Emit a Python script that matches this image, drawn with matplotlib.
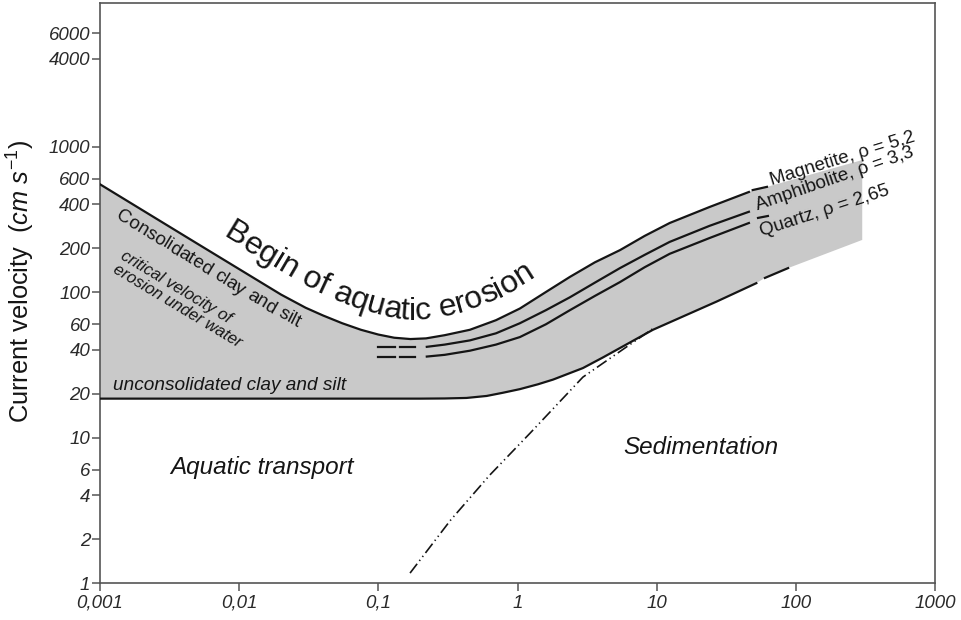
import numpy as np
import matplotlib
matplotlib.use('Agg')
import matplotlib.pyplot as plt
from matplotlib.font_manager import FontProperties, findfont
from matplotlib.ft2font import FT2Font

plt.rcParams['font.family'] = ['Liberation Sans', 'DejaVu Sans']
plt.rcParams['mathtext.fontset'] = 'custom'
plt.rcParams['mathtext.rm'] = 'Liberation Sans'
plt.rcParams['mathtext.it'] = 'Liberation Sans:italic'

# grain size (mm) against current velocity (cm/s)
erosion_x = [0.001, 0.005, 0.02, 0.03, 0.04, 0.055, 0.075, 0.1, 0.13, 0.17, 0.22, 0.3,
             0.455, 0.7, 1.04, 1.6, 2.38, 3.6, 5.45, 8.2, 12.4, 24, 46]
erosion_y = [550, 215, 96, 78, 69, 61, 55, 51, 48.5, 47.5, 48, 50.5,
             55, 64, 77, 100, 127, 160, 194, 243, 298, 384, 487]
erosion_dash_x = [49, 62]
erosion_dash_y = [502, 528]

amph_x = [0.223, 0.3, 0.455, 0.7, 1.04, 1.6, 2.38, 3.6, 5.45, 8.2, 12.4, 24, 46]
amph_y = [42, 43.5, 46.5, 52, 61, 75, 92, 116, 146, 180, 221, 285, 356]
quartz_x = [0.223, 0.3, 0.455, 0.7, 1.04, 1.6, 2.38, 3.6, 5.45, 8.2, 12.4, 24, 46]
quartz_y = [36, 37, 39.5, 43.5, 49, 60, 75, 94, 117, 148, 183, 235, 298]
quartz_dash_x = [53.5, 63]
quartz_dash_y = [323, 333]
lead_x = [0.099, 0.131, 0.143, 0.183]
amph_lead_y = 42
quartz_lead_y = 36

unc_x = [0.001, 0.2, 0.3, 0.43, 0.6, 0.785, 1.04, 1.4, 1.8, 2.95, 4.11, 9.4, 27, 52]
unc_y = [18.5, 18.5, 18.55, 18.7, 19.3, 20.3, 21.5, 23.2, 25, 30, 35.5, 55, 86, 115]
unc_dash_x = [60, 88]
unc_dash_y = [125, 146]

sed_x = [0.169, 0.33, 0.63, 1.23, 2.95, 9.4]
sed_y = [1.17, 2.7, 5.5, 10.7, 26, 56]

shade_right_x = 300
shade_right_top = 807
shade_right_bottom = 228

xticks = [0.001, 0.01, 0.1, 1, 10, 100, 1000]
xticklabels = ['0,001', '0,01', '0,1', '1', '10', '100', '1000']
yticks = [1, 2, 4, 6, 10, 20, 40, 60, 100, 200, 400, 600, 1000, 4000, 6000]
yticklabels = [str(v) for v in yticks]

ink = '#151515'
fig = plt.figure(figsize=(9.62, 6.2), dpi=100)
ax = fig.add_axes([100 / 962, 37 / 620, 835 / 962, 580 / 620])
ax.set_xscale('log')
ax.set_yscale('log')
ax.set_xlim(0.001, 1000)
ax.set_ylim(1, 9690)

# grey band between the erosion curves
poly_x = erosion_x + erosion_dash_x + [shade_right_x, shade_right_x] + unc_dash_x[::-1] + unc_x[::-1]
poly_y = erosion_y + erosion_dash_y + [shade_right_top, shade_right_bottom] + unc_dash_y[::-1] + unc_y[::-1]
ax.fill(poly_x, poly_y, color='#c9c9c9', lw=0, zorder=1)

lw = 1.6
ax.plot(erosion_x, erosion_y, color=ink, lw=lw, zorder=3)
ax.plot(erosion_dash_x, erosion_dash_y, color=ink, lw=lw, zorder=3)
ax.plot(amph_x, amph_y, color=ink, lw=lw, zorder=3)
ax.plot(quartz_x, quartz_y, color=ink, lw=lw, zorder=3)
ax.plot(quartz_dash_x, quartz_dash_y, color=ink, lw=lw, zorder=3)
for i in (0, 2):
    ax.plot(lead_x[i:i + 2], [amph_lead_y] * 2, color=ink, lw=lw, zorder=3)
    ax.plot(lead_x[i:i + 2], [quartz_lead_y] * 2, color=ink, lw=lw, zorder=3)
ax.plot(unc_x, unc_y, color=ink, lw=lw, zorder=3)
ax.plot(unc_dash_x, unc_dash_y, color=ink, lw=lw, zorder=3)
ax.plot(sed_x, sed_y, color=ink, lw=1.2, ls=(0, (7, 2.2, 0.8, 2.2, 0.8, 2.2)), zorder=3)

# axes styling
for sp in ax.spines.values():
    sp.set_color('#555555')
    sp.set_linewidth(1.2)
ax.set_xticks(xticks)
ax.set_xticklabels(xticklabels, fontstyle='italic')
ax.set_yticks(yticks)
ax.set_yticklabels(yticklabels, fontstyle='italic')
ax.minorticks_off()
ax.tick_params(direction='out', length=5.5, width=1.1, color='#555555',
               labelsize=13.5, labelcolor='#2a2a2a')
ax.tick_params(axis='x', pad=3)
ax.tick_params(axis='y', pad=1.5)

fig.text(21 / 962, 1 - 281 / 620, r'Current velocity  $(cm\ s^{-1})$',
         rotation=90, ha='center', va='center', fontsize=18.3, color=ink)


def text_along(s, xs, ys, start_px, offset, size):
    # lay characters one by one along a curve given in data coordinates
    fp = FontProperties(family='Liberation Sans', size=size)
    font = FT2Font(findfont(fp))
    font.set_size(size, fig.dpi)
    adv = []
    for ch in s:
        g = font.load_char(ord(ch))
        adv.append(g.linearHoriAdvance / 65536)
    pts = ax.transData.transform(np.column_stack([xs, ys]))
    d = np.hypot(*np.diff(pts, axis=0).T)
    arc = np.concatenate([[0], np.cumsum(d)])
    ss = np.linspace(0, arc[-1], 4000)
    px = np.interp(ss, arc, pts[:, 0])
    py = np.interp(ss, arc, pts[:, 1])
    ang = np.arctan2(np.gradient(py), np.gradient(px))
    k = max(1, int(18 / (ss[1] - ss[0])))
    ang = np.convolve(np.pad(ang, (k, k), mode='edge'), np.ones(2 * k + 1) / (2 * k + 1), mode='valid')
    bx = px - offset * np.sin(ang)
    by = py + offset * np.cos(ang)
    arc2 = np.concatenate([[0], np.cumsum(np.hypot(np.diff(bx), np.diff(by)))])
    s0 = np.interp(start_px, bx, arc2)
    inv = ax.transData.inverted()
    pen = s0
    for ch, a_w in zip(s, adv):
        c = pen + a_w / 2
        pen += a_w
        if ch == ' ':
            continue
        x = np.interp(c, arc2, bx)
        y = np.interp(c, arc2, by)
        a = np.degrees(np.interp(c, arc2, ang))
        dx, dy = inv.transform((x, y))
        ax.text(dx, dy, ch, fontproperties=fp, rotation=a, rotation_mode='anchor',
                ha='center', va='baseline', color=ink, zorder=5)


fig.canvas.draw()
text_along('Begin of aquatic erosion', erosion_x, erosion_y, 222, 19, 23)
text_along('Consolidated clay and silt', erosion_x, erosion_y, 115, -21, 13.5)

ax.text(0.00139, 171, 'critical velocity of', rotation=-31, rotation_mode='anchor',
        ha='left', va='baseline', fontsize=12, style='italic', color=ink)
ax.text(0.00122, 137, 'erosion under water', rotation=-31, rotation_mode='anchor',
        ha='left', va='baseline', fontsize=12, style='italic', color=ink)
ax.text(0.00124, 21.2, 'unconsolidated clay and silt', ha='left', va='baseline',
        fontsize=13.7, style='italic', color=ink)
ax.text(0.0146, 6.2, 'Aquatic transport', ha='center', va='center',
        fontsize=17.5, style='italic', color=ink)
ax.text(20.8, 8.5, 'Sedimentation', ha='center', va='center',
        fontsize=17.5, style='italic', color=ink)

ax.text(67.3, 544, 'Magnetite, ρ = 5,2', rotation=17, rotation_mode='anchor',
        ha='left', va='baseline', fontsize=13.5, color=ink, zorder=5)
ax.text(53.3, 366, 'Amphibolite, ρ = 3,3', rotation=19, rotation_mode='anchor',
        ha='left', va='baseline', fontsize=13.5, color=ink, zorder=5)
ax.text(57, 243, 'Quartz, ρ = 2,65', rotation=18, rotation_mode='anchor',
        ha='left', va='baseline', fontsize=13.5, color=ink, zorder=5)

fig.savefig('out.png', dpi=100)
